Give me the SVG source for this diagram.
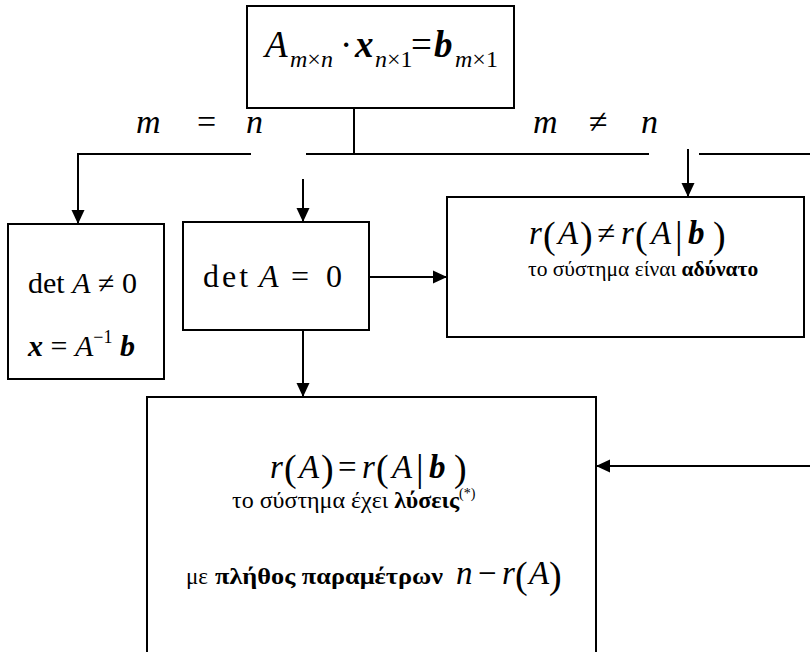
<svg xmlns="http://www.w3.org/2000/svg" width="810" height="652" viewBox="0 0 810 652" font-family="'Liberation Serif', 'Times New Roman', serif">
<style>
.box{fill:#fff;stroke:#000;stroke-width:2}
.ln{fill:none;stroke:#000;stroke-width:2}
text{font-family:'Liberation Serif','Times New Roman',serif;fill:#000}
.i{font-style:italic}
.bi{font-style:italic;font-weight:bold}
.b{font-weight:bold}
.m{font-size:33px}
.p{font-size:38px}
</style>
<defs>
<marker id="ah" markerUnits="userSpaceOnUse" markerWidth="14" markerHeight="14" viewBox="0 0 14 14" refX="14" refY="7" orient="auto">
<path d="M0,0.5 L14,7 L0,13.5 Z" fill="#000"/>
</marker>
</defs>
<rect width="810" height="652" fill="#fff"/>

<g id="connectors">
<line class="ln" x1="354" y1="108" x2="354" y2="154"/>
<line class="ln" x1="77" y1="154" x2="251" y2="154"/>
<line class="ln" x1="306" y1="154" x2="649" y2="154"/>
<line class="ln" x1="699" y1="154" x2="810" y2="154"/>
<line class="ln" x1="78" y1="153" x2="78" y2="224" marker-end="url(#ah)"/>
<line class="ln" x1="303" y1="179" x2="303" y2="222" marker-end="url(#ah)"/>
<line class="ln" x1="688" y1="149" x2="688" y2="197" marker-end="url(#ah)"/>
<line class="ln" x1="369" y1="277" x2="447" y2="277" marker-end="url(#ah)"/>
<line class="ln" x1="303" y1="330" x2="303" y2="397" marker-end="url(#ah)"/>
<line class="ln" x1="810" y1="466" x2="596" y2="466" marker-end="url(#ah)"/>
<text class="i" font-size="34" x="136" y="133">m</text>
<text font-size="34" x="197" y="133">=</text>
<text class="i" font-size="34" x="246" y="133">n</text>
<text class="i" font-size="34" x="533" y="133">m</text>
<text font-size="34" x="589" y="133">≠</text>
<text class="i" font-size="34" x="641" y="133">n</text>
</g>

<g id="system">
<rect class="box" x="247" y="6" width="267" height="102"/>
<text class="i" font-size="37" x="265" y="57">A</text>
<text font-size="24" x="290" y="67"><tspan class="i">m</tspan>×<tspan class="i">n</tspan></text>
<text font-size="37" x="340" y="57">·</text>
<text class="bi" font-size="37" x="355" y="57">x</text>
<text font-size="24" x="375" y="67"><tspan class="i">n</tspan>×1</text>
<text font-size="37" x="411" y="57">=</text>
<text class="bi" font-size="37" x="434" y="57">b</text>
<text font-size="24" x="455" y="67"><tspan class="i">m</tspan>×1</text>
</g>

<g id="det-nonzero">
<rect class="box" x="8" y="224" width="156" height="155"/>
<text font-size="30" x="28" y="293">det <tspan class="i">A</tspan> ≠ 0</text>
<text font-size="30" x="28" y="356"><tspan class="bi">x</tspan> = <tspan class="i">A</tspan><tspan font-size="18" dy="-13">−1</tspan><tspan class="bi" dy="13"> b</tspan></text>
</g>

<g id="det-zero">
<rect class="box" x="183" y="222" width="186" height="108"/>
<text font-size="32" x="203" y="287" letter-spacing="3">det</text>
<text class="i" font-size="32" x="259" y="287">A</text>
<text font-size="32" x="291" y="287">=</text>
<text font-size="32" x="326" y="287">0</text>
</g>

<g id="inconsistent">
<rect class="box" x="447" y="197" width="357" height="140"/>
<text class="i m" x="529" y="244">r</text>
<text class="p" x="543" y="248">(</text>
<text class="i m" x="558" y="244">A</text>
<text class="p" x="580" y="248">)</text>
<text class="m" x="597" y="244">≠</text>
<text class="i m" x="621" y="244">r</text>
<text class="p" x="635" y="248">(</text>
<text class="i m" x="651" y="244">A</text>
<text class="p" x="675" y="248">|</text>
<text class="bi m" x="688" y="244">b</text>
<text class="p" x="713" y="248">)</text>
<text font-size="21.5" x="528" y="276">το σύστημα είναι <tspan class="b">αδύνατο</tspan></text>
</g>

<g id="consistent">
<rect class="box" x="147" y="397" width="449" height="270"/>
<text class="i m" x="270" y="478">r</text>
<text class="p" x="284" y="481">(</text>
<text class="i m" x="299" y="478">A</text>
<text class="p" x="321" y="481">)</text>
<text class="m" x="338" y="478">=</text>
<text class="i m" x="362" y="478">r</text>
<text class="p" x="376" y="481">(</text>
<text class="i m" x="392" y="478">A</text>
<text class="p" x="416" y="481">|</text>
<text class="bi m" x="429" y="478">b</text>
<text class="p" x="454" y="481">)</text>
<text font-size="24" x="232" y="508">το σύστημα έχει <tspan class="b">λύσεις</tspan><tspan font-size="14" dy="-10">(*)</tspan></text>
<text font-size="23" x="186" y="584">με</text>
<text class="b" font-size="23" x="215" y="584" textLength="228" lengthAdjust="spacingAndGlyphs">πλήθος παραμέτρων</text>
<text class="i m" x="456" y="584">n</text>
<text class="m" x="478" y="584">−</text>
<text class="i m" x="502" y="584">r</text>
<text class="p" x="515" y="588">(</text>
<text class="i m" x="529" y="584">A</text>
<text class="p" x="549" y="588">)</text>
</g>
</svg>
